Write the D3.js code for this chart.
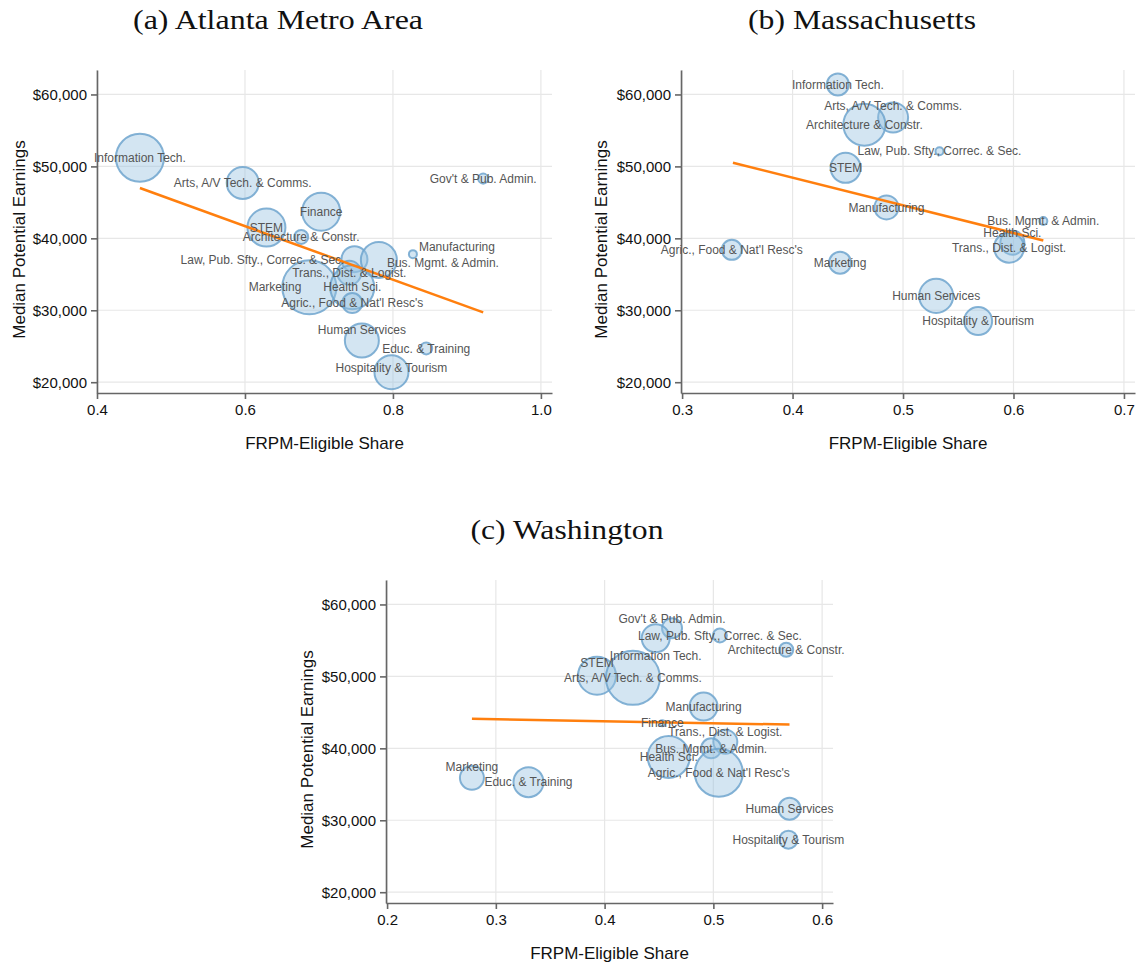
<!DOCTYPE html>
<html>
<head>
<meta charset="utf-8">
<script src="https://cdn.jsdelivr.net/npm/d3@7"></script>
<style>
  body { margin: 0; background: #fff; }
  svg { display: block; }
  .tick text { font-family: "Liberation Sans", Arial, sans-serif; font-size: 15px; fill: #111; }
  .domain, .tick line { stroke: #666; stroke-width: 1.6; }
</style>
</head>
<body>
<script>
// ---- data ----
// (a) Atlanta Metro Area
var namesA = ["Information Tech.", "Arts, A/V Tech. & Comms.", "STEM", "Architecture & Constr.", "Finance",
  "Gov't & Pub. Admin.", "Manufacturing", "Law, Pub. Sfty., Correc. & Sec.", "Bus. Mgmt. & Admin.",
  "Trans., Dist. & Logist.", "Marketing", "Health Sci.", "Agric., Food & Nat'l Resc's", "Human Services",
  "Educ. & Training", "Hospitality & Tourism"];
var shareA = [0.458, 0.597, 0.629, 0.676, 0.703, 0.922, 0.827, 0.748, 0.781, 0.741, 0.687, 0.745, 0.745, 0.758, 0.845, 0.798];
var earnA = [51200, 47700, 41500, 40200, 43700, 48300, 37800, 37100, 37000, 35200, 33200, 33200, 31000, 25800, 24700, 21400];
var sizeA = [576, 256, 361, 49, 361, 25, 16, 169, 324, 144, 729, 484, 100, 289, 36, 289];
var fitA = [[0.458, 47000], [0.922, 29700]];

// (b) Massachusetts
var namesB = ["Information Tech.", "Arts, A/V Tech. & Comms.", "Architecture & Constr.", "Law, Pub. Sfty., Correc. & Sec.",
  "STEM", "Manufacturing", "Bus. Mgmt. & Admin.", "Health Sci.", "Trans., Dist. & Logist.",
  "Agric., Food & Nat'l Resc's", "Marketing", "Human Services", "Hospitality & Tourism"];
var shareB = [0.441, 0.491, 0.465, 0.533, 0.448, 0.485, 0.627, 0.599, 0.596, 0.345, 0.443, 0.530, 0.568];
var earnB = [61400, 56800, 55800, 52100, 49800, 44300, 42400, 39400, 38700, 38400, 36600, 32000, 28500];
var sizeB = [121, 225, 441, 16, 225, 144, 16, 144, 225, 100, 121, 289, 196];
var fitB = [[0.346, 50500], [0.627, 39700]];

// (c) Washington
var namesC = ["Gov't & Pub. Admin.", "Information Tech.", "Law, Pub. Sfty., Correc. & Sec.", "Architecture & Constr.",
  "STEM", "Arts, A/V Tech. & Comms.", "Manufacturing", "Finance", "Trans., Dist. & Logist.",
  "Bus. Mgmt. & Admin.", "Health Sci.", "Agric., Food & Nat'l Resc's", "Marketing", "Educ. & Training",
  "Human Services", "Hospitality & Tourism"];
var shareC = [0.462, 0.447, 0.506, 0.567, 0.393, 0.426, 0.491, 0.453, 0.511, 0.498, 0.459, 0.505, 0.278, 0.330, 0.570, 0.569];
var earnC = [56700, 55300, 55700, 53700, 50100, 49800, 45800, 43500, 40900, 40000, 38800, 36600, 35900, 35300, 31600, 27300];
var sizeC = [100, 196, 49, 49, 361, 729, 196, 9, 144, 100, 441, 576, 144, 225, 121, 81];
var fitC = [[0.278, 44100], [0.570, 43300]];

var yTicks = [20000, 30000, 40000, 50000, 60000];

// label placement (layout only)
var labelPos = {
  a: { "Manufacturing": [6, -7, "start"], "Law, Pub. Sfty., Correc. & Sec.": [-10, 1, "end"],
       "Bus. Mgmt. & Admin.": [8, 3, "start"], "Marketing": [-8, 0, "end"],
       "Human Services": [0, -11], "Hospitality & Tourism": [0, -4] },
  b: { "Arts, A/V Tech. & Comms.": [0, -12], "Health Sci.": [0, -10] },
  c: { "Gov't & Pub. Admin.": [0, -9], "Information Tech.": [0, 18], "STEM": [0, -13],
       "Marketing": [0, -11], "Trans., Dist. & Logist.": [0, -10] }
};

var panels = [
  { key: "a", title: "(a) Atlanta Metro Area", names: namesA, xs: shareA, ys: earnA, sizes: sizeA, fit: fitA,
    xDomain: [0.4, 1.015], xRange: [97, 552], yRange: [393, 70], xTicks: [0.4, 0.6, 0.8, 1.0],
    titleX: 278, titleY: 29, titleW: 290, yLabX: 25 },
  { key: "b", title: "(b) Massachusetts", names: namesB, xs: shareB, ys: earnB, sizes: sizeB, fit: fitB,
    xDomain: [0.299, 0.71], xRange: [681, 1135], yRange: [393, 70], xTicks: [0.3, 0.4, 0.5, 0.6, 0.7],
    titleX: 862, titleY: 29, titleW: 228, yLabX: 607 },
  { key: "c", title: "(c) Washington", names: namesC, xs: shareC, ys: earnC, sizes: sizeC, fit: fitC,
    xDomain: [0.199, 0.61], xRange: [386, 833], yRange: [903, 580], xTicks: [0.2, 0.3, 0.4, 0.5, 0.6],
    titleX: 567, titleY: 539, titleW: 193, yLabX: 313 }
];

var svg = d3.select("body").append("svg").attr("width", 1136).attr("height", 967);
var r = d3.scaleSqrt().domain([0, 800]).range([0, 28.3]);

panels.forEach(function(p) {
  var x = d3.scaleLinear().domain(p.xDomain).range(p.xRange);
  var y = d3.scaleLinear().domain([18500, 63400]).range(p.yRange);
  var g = svg.append("g");

  g.append("text")
    .attr("x", p.titleX).attr("y", p.titleY)
    .attr("text-anchor", "middle")
    .attr("textLength", p.titleW).attr("lengthAdjust", "spacingAndGlyphs")
    .style("font-family", "'Liberation Serif', 'DejaVu Serif', serif")
    .style("font-size", "28px").style("fill", "#111")
    .text(p.title);

  // gridlines
  g.selectAll(".gx").data(p.xTicks).enter().append("line")
    .attr("x1", function(d) { return x(d); }).attr("x2", function(d) { return x(d); })
    .attr("y1", p.yRange[0]).attr("y2", p.yRange[1])
    .attr("stroke", "#e7e7e7").attr("stroke-width", 1.2);
  g.selectAll(".gy").data(yTicks).enter().append("line")
    .attr("x1", p.xRange[0]).attr("x2", p.xRange[1])
    .attr("y1", function(d) { return y(d); }).attr("y2", function(d) { return y(d); })
    .attr("stroke", "#e7e7e7").attr("stroke-width", 1.2);

  // axes
  g.append("g").attr("transform", "translate(0," + p.yRange[0] + ")")
    .call(d3.axisBottom(x).tickValues(p.xTicks).tickSize(6).tickSizeOuter(0).tickPadding(5)
      .tickFormat(d3.format(".1f")));
  g.append("g").attr("transform", "translate(" + p.xRange[0] + ",0)")
    .call(d3.axisLeft(y).tickValues(yTicks).tickSize(6).tickSizeOuter(0).tickPadding(4)
      .tickFormat(function(d) { return "$" + d3.format(",")(d); }));

  g.append("text")
    .attr("x", (p.xRange[0] + p.xRange[1]) / 2).attr("y", p.yRange[0] + 56)
    .attr("text-anchor", "middle")
    .style("font-family", "'Liberation Sans', Arial, sans-serif").style("font-size", "17px").style("fill", "#111")
    .text("FRPM-Eligible Share");
  g.append("text")
    .attr("transform", "translate(" + p.yLabX + "," + ((p.yRange[0] + p.yRange[1]) / 2 + 8) + ") rotate(-90)")
    .attr("text-anchor", "middle")
    .style("font-family", "'Liberation Sans', Arial, sans-serif").style("font-size", "17px").style("fill", "#111")
    .text("Median Potential Earnings");

  var idx = d3.range(p.names.length);

  // bubbles
  g.selectAll(".bub").data(idx).enter().append("circle")
    .attr("cx", function(i) { return x(p.xs[i]); })
    .attr("cy", function(i) { return y(p.ys[i]); })
    .attr("r", function(i) { return r(p.sizes[i]); })
    .attr("fill", "rgba(150,192,224,0.42)")
    .attr("stroke", "rgba(110,165,206,0.85)")
    .attr("stroke-width", 2);

  // fitted line
  g.append("path")
    .datum(p.fit)
    .attr("d", d3.line().x(function(d) { return x(d[0]); }).y(function(d) { return y(d[1]); }))
    .attr("stroke", "#ff7f0e").attr("stroke-width", 2.5).attr("fill", "none");

  // labels
  g.selectAll(".lab").data(idx).enter().append("text")
    .attr("x", function(i) { var o = labelPos[p.key][p.names[i]]; return x(p.xs[i]) + (o ? o[0] : 0); })
    .attr("y", function(i) { var o = labelPos[p.key][p.names[i]]; return y(p.ys[i]) + (o ? o[1] : 0); })
    .attr("dy", "0.35em")
    .attr("text-anchor", function(i) { var o = labelPos[p.key][p.names[i]]; return o && o[2] ? o[2] : "middle"; })
    .style("font-family", "'Liberation Sans', Arial, sans-serif").style("font-size", "12px")
    .style("fill", "#555")
    .text(function(i) { return p.names[i]; });
});
</script>
</body>
</html>
